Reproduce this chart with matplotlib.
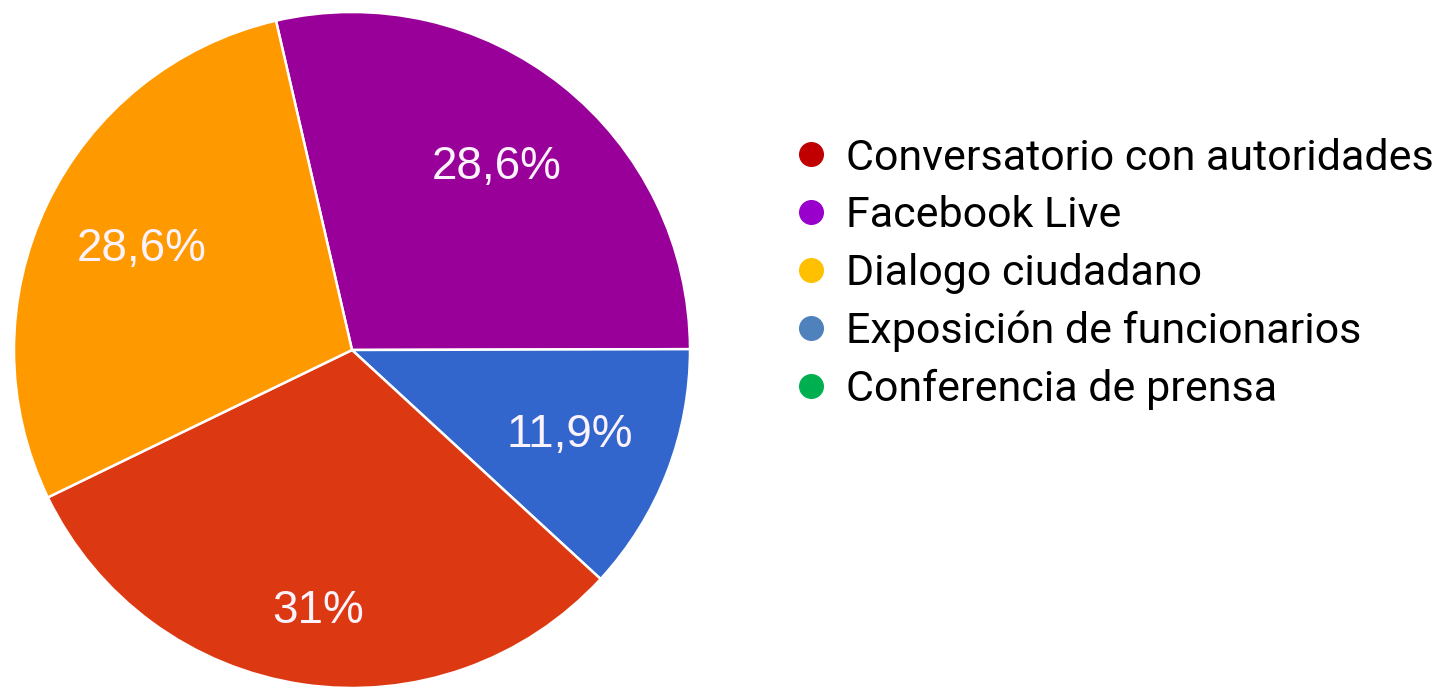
import numpy as np
import matplotlib.pyplot as plt
import matplotlib
from matplotlib.lines import Line2D

matplotlib.rcParams['font.family'] = ['Liberation Sans', 'DejaVu Sans']

# legend entries (in legend order)
categories = ["Conversatorio con autoridades", "Facebook Live", "Dialogo ciudadano",
              "Exposición de funcionarios", "Conferencia de prensa"]
percent = [31.0, 28.6, 28.6, 11.9, 0.0]
pct_labels = ["31%", "28,6%", "28,6%", "11,9%", "0%"]
pie_colors = ["#DC3912", "#990099", "#FF9900", "#3366CC", "#109618"]
legend_colors = ["#C00000", "#9900CC", "#FFC000", "#4F81BD", "#00B050"]

# slice order on the pie, clockwise from the top-left
pie_order = [1, 3, 0, 2]

fig = plt.figure(figsize=(14.54, 6.87), dpi=100)
ax = fig.add_axes([14 / 1454, -1 / 687, 676 / 1454, 676 / 687])

vals = [percent[i] for i in pie_order]
labs = iter([pct_labels[i] for i in pie_order])
wedges, texts, autotexts = ax.pie(
    vals, colors=[pie_colors[i] for i in pie_order], startangle=103,
    counterclock=False, autopct=lambda p: next(labs), pctdistance=0.69,
    wedgeprops=dict(edgecolor='white', linewidth=1.8),
    textprops=dict(color='white', fontsize=33))
for t in autotexts:
    t.set_color('#fbf2fb')
# the 31% label sits a bit lower in the original
x, y = autotexts[2].get_position()
autotexts[2].set_position((x, y * 1.13))
ax.set_xlim(-1, 1)
ax.set_ylim(-1, 1)

handles = [Line2D([], [], marker='o', linestyle='none', markersize=17,
                  markerfacecolor=c, markeredgecolor=c) for c in legend_colors]
fig.legend(handles, categories, loc='upper left', bbox_to_anchor=(777 / 1454, 1 - 116 / 687),
           frameon=False, prop={'family': 'Roboto', 'size': 31},
           handlelength=0.6, handletextpad=0.5, labelspacing=0.39, borderpad=0)

fig.savefig('out.png', dpi=100, facecolor='white')
